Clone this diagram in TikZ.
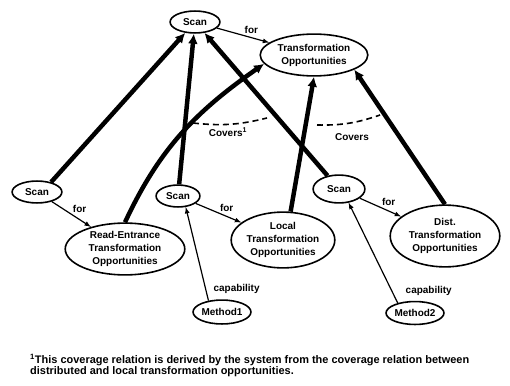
\documentclass[tikz,border=0pt]{standalone}
\usepackage{fontspec}
\setmainfont{Liberation Sans}
\usetikzlibrary{shapes.geometric, arrows.meta}

\begin{document}
\begin{tikzpicture}[x=1bp, y=1bp, >=latex, font=\fontsize{10}{13}\selectfont\bfseries,
		obj/.style={draw, ellipse, line width=1.6pt, inner sep=0pt, align=center},
		isa/.style={-{Latex[length=10pt,width=10pt]}, line width=4.5pt},
		rel/.style={->, line width=1.2pt},
		cov/.style={dash pattern=on 6pt off 4pt, line width=1.6pt}]
				\useasboundingbox (0,0) rectangle (510,385);
				% Knoten
				\node[obj, minimum width=50, minimum height=22] (scan) at (195,363) {Scan};
				\node[obj, minimum width=108, minimum height=42] (to) at (314,330) {Transformation\\Opportunities};
				\node[obj, minimum width=50, minimum height=22] (scanL) at (37,193) {Scan};
				\node[obj, minimum width=120, minimum height=52] (re) at (125,136) {Read-Entrance\\Transformation\\Opportunities};
				\node[obj, minimum width=44, minimum height=22] (scanM) at (178,189) {Scan};
				\node[obj, minimum width=104, minimum height=56] (local) at (283,145) {Local\\Transformation\\Opportunities};
				\node[obj, minimum width=52, minimum height=28] (scanR) at (339,196) {Scan};
				\node[obj, minimum width=110, minimum height=62] (dist) at (445,149) {Dist.\\Transformation\\Opportunities};
				\node[obj, minimum width=58, minimum height=24] (mA) at (222,73) {Method1};
				\node[obj, minimum width=56, minimum height=23] (mB) at (415,72) {Method2};
				% dicke Pfeile
				\draw[isa] (scanL.35) -- (scan);
				\draw[isa] (scanM) -- (scan);
				\draw[isa] (scanR) -- (scan);
				\draw[isa] (re.north) to[out=65, in=215] (to.190);
				\draw[isa] (local.75) -- (to.south);
				\draw[isa] (dist.north) -- (to.-20);
				% for-Relationen
				\foreach \a/\b in {scan/to, scanL/re, scanM/local, scanR/dist}
					\draw[rel] (\a) -- (\b) node[midway, above right, inner sep=1pt] {for};
				% capability
				\draw[rel] (mA.140) -- (scanM.-55) node[pos=.12, right=4pt] {capability};
				\draw[rel] (mB.150) -- (scanR.-55) node[pos=.12, right=10pt] {capability};
				% Covers
				\coordinate (cA1) at (193,262);
				\coordinate (cA2) at (267,267);
				\coordinate (cB1) at (317,260);
				\coordinate (cB2) at (380,270);
				\draw[cov] (cA1) to[bend right=10] (cA2);
				\draw[cov] (cB1) to[bend right=10] (cB2);
				\node (covA) at (228,253) {Covers\textsuperscript{1}};
				\node (covB) at (352,248) {Covers};
				% Fussnote
				\node[anchor=north west, align=left, inner sep=0pt, font=\fontsize{11}{11.5}\selectfont\bfseries] (note) at (30,31)
					{\textsuperscript{1}This coverage relation is derived by the system from the coverage relation between\\distributed and local transformation opportunities.};
		\end{tikzpicture}
\end{document}
